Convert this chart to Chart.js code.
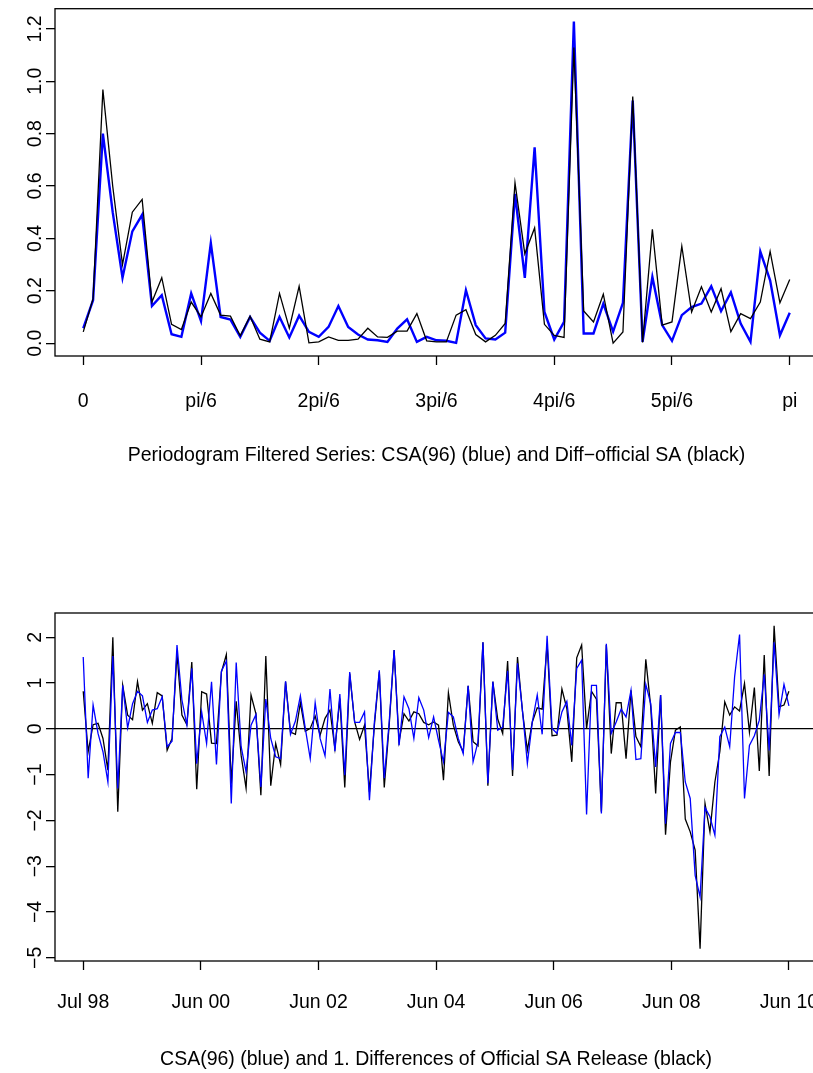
<!DOCTYPE html>
<html>
<head>
<meta charset="utf-8">
<script src="https://cdn.jsdelivr.net/npm/chart.js@4.4.1/dist/chart.umd.min.js"></script>
<style>
  html, body { margin: 0; padding: 0; background: #fff; overflow: hidden; }
  .panel { position: absolute; left: 0; }
</style>
</head>
<body>
<div class="panel" style="top:0"><canvas id="perio" width="840" height="540"></canvas></div>
<div class="panel" style="top:540px"><canvas id="series" width="840" height="533"></canvas></div>
<script>
// periodogram : frequences 0..pi (73 ordonnees)
const perioTickPos = [0, 12, 24, 36, 48, 60, 72];
const perioTickText = ['0', 'pi/6', '2pi/6', '3pi/6', '4pi/6', '5pi/6', 'pi'];
const perioYTicks = [0, 0.2, 0.4, 0.6, 0.8, 1.0, 1.2];
const perioYText = ['0.0', '0.2', '0.4', '0.6', '0.8', '1.0', '1.2'];

const perioBlack = [
  0.043, 0.17, 0.968, 0.60, 0.30, 0.50, 0.549, 0.157, 0.25, 0.072,
  0.052, 0.157, 0.10, 0.19, 0.107, 0.103, 0.028, 0.103, 0.015, 0.005,
  0.19, 0.057, 0.217, 0.001, 0.005, 0.024, 0.011, 0.011, 0.015, 0.057,
  0.024, 0.022, 0.046, 0.046, 0.113, 0.009, 0.005, 0.005, 0.107, 0.128,
  0.033, 0.005, 0.03, 0.075, 0.612, 0.341, 0.44, 0.072, 0.03, 0.022,
  1.129, 0.123, 0.081, 0.187, 0.0, 0.043, 0.942, 0.003, 0.435, 0.069,
  0.081, 0.37, 0.119, 0.215, 0.119, 0.208, 0.044, 0.113, 0.094, 0.157,
  0.35, 0.154, 0.243
];
const perioBlue = [
  0.057, 0.164, 0.80, 0.50, 0.25, 0.427, 0.49, 0.142, 0.183, 0.034,
  0.024, 0.19, 0.084, 0.382, 0.10, 0.09, 0.024, 0.10, 0.04, 0.009,
  0.10, 0.022, 0.105, 0.043, 0.024, 0.062, 0.142, 0.062, 0.033, 0.014,
  0.011, 0.005, 0.056, 0.091, 0.005, 0.024, 0.011, 0.009, 0.001, 0.202,
  0.069, 0.018, 0.014, 0.04, 0.57, 0.249, 0.748, 0.119, 0.014, 0.081,
  1.228, 0.037, 0.037, 0.151, 0.044, 0.154, 0.926, 0.005, 0.253, 0.069,
  0.009, 0.107, 0.138, 0.151, 0.217, 0.122, 0.194, 0.075, 0.005, 0.35,
  0.24, 0.03, 0.116
];

// series mensuelles Jul 98 .. Jun 10 (144 mois)
const monthTickPos = [0, 143 / 6, 2 * 143 / 6, 3 * 143 / 6, 4 * 143 / 6, 5 * 143 / 6, 143];
const monthTickText = ['Jul 98', 'Jun 00', 'Jun 02', 'Jun 04', 'Jun 06', 'Jun 08', 'Jun 10'];
const seriesYTicks = [2, 1, 0, -1, -2, -3, -4, -5];
const seriesYText = ['2', '1', '0', '\u22121', '\u22122', '\u22123', '\u22124', '\u22125'];

const officialDiff = [
  0.82, -0.50, 0.09, 0.12, -0.21, -0.90, 2.00, -1.81, 0.95, 0.30,
  0.20, 1.03, 0.41, 0.55, 0.12, 0.79, 0.72, -0.47, -0.21, 1.64,
  0.30, 0.09, 1.46, -1.32, 0.81, 0.76, -0.31, -0.32, 1.24, 1.62,
  -1.20, 0.60, -0.58, -1.30, 0.74, 0.33, -1.45, 1.59, -1.24, -0.32,
  -0.78, 1.03, -0.07, -0.12, 0.57, -0.05, 0.01, 0.28, -0.14, 0.23,
  0.41, -0.43, 0.66, -1.28, 1.21, 0.15, -0.23, 0.08, -1.38, 0.08,
  1.24, -1.28, 0.08, 1.72, -0.28, 0.33, 0.17, 0.37, 0.33, 0.14,
  0.09, 0.15, 0.08, -1.12, 0.79, 0.08, -0.28, -0.50, 0.94, -0.28,
  -0.37, 1.89, -1.24, 1.03, 0.21, -0.10, 1.48, -1.03, 1.57, 0.39,
  -0.47, 0.15, 0.46, 0.43, 1.86, -0.15, -0.14, 0.87, 0.44, -0.72,
  1.55, 1.83, 0.01, 0.82, 0.65, -1.81, 1.83, -0.54, 0.57, 0.57,
  -0.65, 0.84, -0.17, -0.39, 1.52, 0.48, -1.41, 0.74, -2.31, -0.72,
  -0.03, 0.04, -1.97, -2.25, -2.65, -4.80, -1.63, -2.25, -1.16, -0.50,
  0.59, 0.30, 0.48, 0.39, 0.99, -0.07, 0.90, -0.92, 1.61, -1.03,
  2.25, 0.48, 0.52, 0.82
];
const csa96 = [
  1.57, -1.08, 0.52, -0.10, -0.50, -1.16, 1.59, -1.30, 0.95, 0.02,
  0.55, 0.82, 0.72, 0.14, 0.41, 0.44, 0.70, -0.39, -0.27, 1.83,
  0.63, 0.08, 1.32, -0.76, 0.37, -0.32, 1.03, -0.78, 1.26, 1.48,
  -1.63, 1.45, -0.39, -0.94, 0.08, 0.31, -1.27, 0.65, -0.21, -0.61,
  -0.65, 1.04, -0.12, 0.17, 0.72, 0.01, -0.65, 0.57, -0.21, -0.59,
  0.87, -0.49, 0.76, -1.01, 1.24, 0.14, 0.14, 0.37, -1.56, 0.15,
  1.28, -1.08, 0.15, 1.72, -0.36, 0.70, 0.44, -0.21, 0.68, 0.41,
  -0.19, 0.26, -0.25, -0.72, 0.36, 0.26, -0.21, -0.54, 0.94, -0.72,
  -0.28, 1.89, -1.19, 1.03, -0.03, 0.04, 1.27, -0.90, 1.43, 0.41,
  -0.76, 0.15, 0.74, -0.12, 2.03, 0.01, -0.10, 0.37, 0.60, -0.36,
  1.32, 1.50, -1.87, 0.95, 0.95, -1.85, 1.86, -0.10, 0.15, 0.43,
  0.26, 0.84, -0.67, -0.65, 0.97, 0.55, -0.83, 0.74, -2.07, -0.32,
  -0.08, -0.08, -1.16, -1.52, -3.20, -3.67, -1.72, -1.92, -2.32, -0.17,
  0.04, -0.39, 1.14, 2.06, -1.52, -0.36, -0.15, 0.19, 1.19, -0.47,
  1.89, 0.31, 0.97, 0.50
];

const font = { family: '"Liberation Sans", Arial, sans-serif', size: 19.5 };

// cadre autour de la zone du graphique (comme box() dans R)
const boxPlugin = {
  id: 'box',
  afterDraw(chart) {
    const a = chart.chartArea;
    const ctx = chart.ctx;
    ctx.save();
    ctx.strokeStyle = '#000';
    ctx.lineWidth = 1.3;
    ctx.strokeRect(a.left, a.top, a.right - a.left, a.bottom - a.top);
    ctx.restore();
  }
};

function xAxis(min, max, pos, text, title, height, labelPad, titlePad) {
  return {
    type: 'linear', min: min, max: max,
    afterBuildTicks: s => { s.ticks = pos.map(v => ({ value: v })); },
    afterFit: s => { s.height = height; },
    ticks: { autoSkip: false, maxRotation: 0, minRotation: 0, color: '#000', font: font,
             padding: labelPad, callback: (v, i) => text[i] },
    grid: { drawOnChartArea: false, drawTicks: true, tickLength: 9, tickColor: '#000', tickWidth: 1.3 },
    border: { display: false },
    title: { display: true, text: title, color: '#000', font: font, padding: { top: 0, bottom: titlePad } }
  };
}

function yAxis(min, max, pos, text, labelPad, zeroLine) {
  return {
    type: 'linear', min: min, max: max,
    afterBuildTicks: s => { s.ticks = pos.map(v => ({ value: v })); },
    afterFit: s => { s.width = 55; },
    ticks: { autoSkip: false, minRotation: 90, maxRotation: 90, crossAlign: 'center', color: '#000',
             font: font, padding: labelPad, callback: (v, i) => text[i] },
    grid: {
      drawOnChartArea: zeroLine,
      color: c => (c.tick && c.tick.value === 0) ? '#000' : 'rgba(0,0,0,0)',
      lineWidth: 1.3,
      drawTicks: true, tickLength: 9, tickColor: '#000', tickWidth: 1.3
    },
    border: { display: false }
  };
}

const common = {
  responsive: false,
  animation: false,
  devicePixelRatio: 1,
  plugins: { legend: { display: false }, tooltip: { enabled: false } },
  elements: { point: { radius: 0 }, line: { tension: 0 } }
};

new Chart(document.getElementById('perio'), {
  type: 'line',
  data: {
    labels: perioBlack.map((v, i) => i),
    datasets: [
      { data: perioBlack, borderColor: '#000', borderWidth: 1.3, order: 1 },
      { data: perioBlue, borderColor: '#0000ff', borderWidth: 2.4, order: 2 }
    ]
  },
  options: Object.assign({}, common, {
    layout: { padding: { top: 8, right: 22, left: 0, bottom: 0 } },
    scales: {
      x: xAxis(-2.88, 74.88, perioTickPos, perioTickText,
        'Periodogram Filtered Series: CSA(96) (blue) and Diff\u2212official SA (black)', 184, 25, 73),
      y: yAxis(-0.049, 1.277, perioYTicks, perioYText, -3, false)
    }
  }),
  plugins: [boxPlugin]
});

new Chart(document.getElementById('series'), {
  type: 'line',
  data: {
    labels: csa96.map((v, i) => i),
    datasets: [
      { data: csa96, borderColor: '#0000ff', borderWidth: 1.3, order: 1 },
      { data: officialDiff, borderColor: '#000', borderWidth: 1.3, order: 2 }
    ]
  },
  options: Object.assign({}, common, {
    layout: { padding: { top: 73, right: 22, left: 0, bottom: 0 } },
    scales: {
      x: xAxis(-5.72, 148.72, monthTickPos, monthTickText,
        'CSA(96) (blue) and 1. Differences of Official SA Release (black)', 112, 21, 2),
      y: yAxis(-5.07, 2.53, seriesYTicks, seriesYText, -1, true)
    }
  }),
  plugins: [boxPlugin]
});
</script>
</body>
</html>
